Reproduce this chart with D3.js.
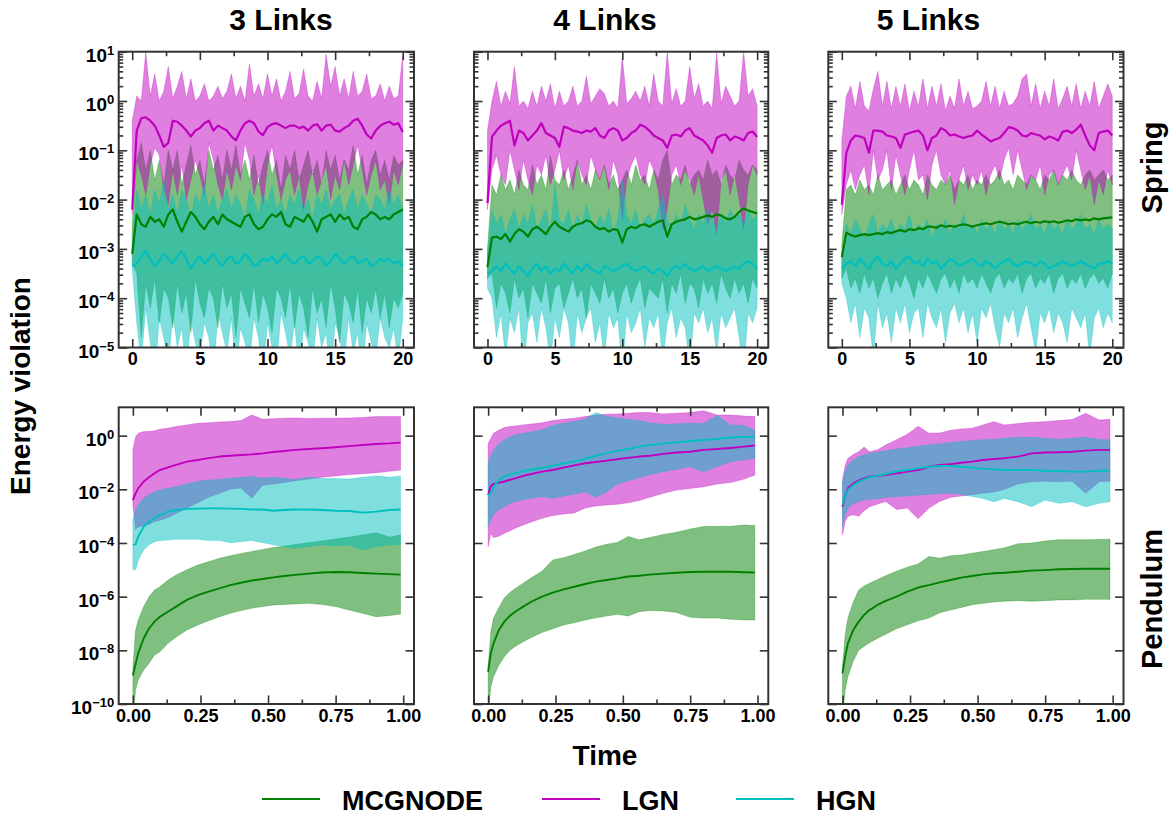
<!DOCTYPE html>
<html lang="en">
<head>
<meta charset="utf-8">
<title>Energy violation</title>
<script src="https://d3js.org/d3.v7.min.js"></script>
<style>
  body { margin: 0; background: #fff; }
  text { font-family: "Liberation Sans", Arial, sans-serif; font-weight: bold; }
</style>
</head>
<body>
<div id="canvas"></div>
<script>
// ---- data: values are log10 of the energy violation ----
const models = ["MCGNODE", "LGN", "HGN"];
const modelColors = ["#008000", "#bf00bf", "#00bfbf"];
const linkLabels = ["3 Links", "4 Links", "5 Links"];
const rowLabels = ["Spring", "Pendulum"];

// spring: 61 samples over t = 0..20
const springT = d3.range(61).map(i => i / 3);

const s3McgMid = [-3.1,-2.3,-2.5,-2.55,-2.35,-2.45,-2.4,-2.55,-2.3,-2.2, -2.45,-2.65,-2.45,-2.25,-2.35,-2.5,-2.6,-2.45,-2.35,-2.5, -2.3,-2.4,-2.45,-2.5,-2.55,-2.35,-2.3,-2.5,-2.6,-2.55, -2.4,-2.3,-2.35,-2.25,-2.5,-2.55,-2.35,-2.4,-2.45,-2.3, -2.45,-2.65,-2.4,-2.35,-2.3,-2.45,-2.3,-2.4,-2.35,-2.55, -2.6,-2.4,-2.35,-2.25,-2.3,-2.4,-2.35,-2.4,-2.3,-2.25,-2.2];
const s3McgHi = [-2.5,-1.2,-0.85,-1.4,-1.0,-1.6,-1.2,-1.7,-1.0,-1.4, -1.0,-1.7,-1.3,-0.9,-1.5,-1.2,-1.7,-1.0,-1.4,-1.1, -1.6,-1.0,-1.4,-0.9,-1.5,-1.2,-1.6,-1.1,-1.7,-1.3, -1.0,-1.5,-1.2,-1.8,-1.1,-1.4,-1.0,-1.6,-1.3,-1.0, -1.5,-1.2,-1.7,-1.0,-1.4,-1.1,-1.6,-1.2,-1.4,-0.9, -1.5,-1.1,-1.7,-1.2,-1.0,-1.5,-1.2,-1.6,-1.1,-1.3,-1.2];
const s3McgLo = [-3.3,-3.5,-4.8,-3.7,-4.2,-3.6,-4.5,-3.8,-4.0,-4.6, -3.7,-4.3,-3.9,-4.7,-3.6,-4.1,-4.4,-3.8,-4.0,-4.6, -3.7,-4.2,-3.9,-4.8,-3.8,-4.1,-4.4,-3.7,-4.5,-3.9, -4.2,-4.7,-3.8,-4.0,-4.4,-3.7,-4.6,-3.9,-4.2,-4.8, -3.8,-4.3,-4.0,-4.6,-3.7,-4.2,-4.9,-3.9,-4.1,-4.5, -3.8,-4.7,-4.0,-4.3,-3.8,-4.4,-3.9,-4.6,-4.0,-4.2,-3.9];
const s3LgnMid = [-2.2,-0.6,-0.35,-0.33,-0.4,-0.5,-0.7,-0.93,-0.85,-0.4, -0.42,-0.5,-0.6,-0.72,-0.6,-0.55,-0.45,-0.4,-0.6,-0.5, -0.55,-0.6,-0.72,-0.8,-0.6,-0.45,-0.4,-0.45,-0.62,-0.69, -0.53,-0.47,-0.45,-0.5,-0.55,-0.5,-0.5,-0.55,-0.52,-0.6, -0.5,-0.47,-0.6,-0.5,-0.48,-0.6,-0.62,-0.55,-0.5,-0.4, -0.36,-0.5,-0.68,-0.76,-0.6,-0.5,-0.45,-0.42,-0.48,-0.45,-0.63];
const s3LgnHi = [-0.4,0.1,0.0,1.0,0.1,0.55,0.0,0.2,0.7,0.05, 0.3,0.6,0.05,0.45,0.0,0.1,0.35,0.0,0.1,0.3, 0.05,0.2,0.55,0.05,0.3,0.0,0.75,0.1,0.35,0.05, 0.55,0.1,0.45,0.0,0.2,0.6,0.05,0.15,0.65,0.1, 0.0,0.4,0.05,0.95,0.3,0.7,0.1,0.45,0.05,0.6, 0.1,0.2,0.55,0.05,0.1,0.35,0.0,0.3,0.05,0.1,0.93];
const s3LgnLo = [-2.3,-1.2,-1.5,-1.9,-1.3,-0.95,-1.1,-1.8,-2.1,-1.4, -1.9,-1.3,-2.0,-1.6,-1.2,-1.5,-1.9,-0.85,-1.2,-1.7, -2.0,-1.4,-1.8,-1.3,-1.6,-0.85,-1.2,-1.9,-1.5,-2.1, -1.3,-0.9,-1.5,-2.0,-1.6,-1.4,-1.9,-1.5,-2.2,-1.7, -1.4,-1.9,-1.6,-1.3,-2.0,-1.5,-1.8,-1.2,-1.7,-1.3, -0.9,-1.4,-1.9,-1.5,-1.2,-1.8,-1.6,-2.1,-1.4,-1.7,-1.3];
const s3HgnMid = [-3.35,-3.3,-3.15,-3.05,-3.2,-3.35,-3.25,-3.1,-3.2,-3.3, -3.15,-3.05,-3.2,-3.4,-3.25,-3.15,-3.3,-3.2,-3.1,-3.25, -3.35,-3.2,-3.15,-3.3,-3.25,-3.1,-3.2,-3.35,-3.3,-3.2, -3.25,-3.15,-3.3,-3.2,-3.1,-3.25,-3.3,-3.2,-3.15,-3.3, -3.25,-3.15,-3.2,-3.35,-3.25,-3.1,-3.2,-3.3,-3.2,-3.15, -3.3,-3.25,-3.2,-3.35,-3.3,-3.2,-3.25,-3.2,-3.3,-3.25,-3.35];
const s3HgnHi = [-2.9,-1.8,-2.2,-1.9,-2.3,-1.8,-2.1,-1.6,-2.2,-1.9, -2.3,-1.8,-2.0,-2.4,-1.9,-2.1,-1.7,-2.2,-1.9,-2.3, -2.0,-1.8,-2.2,-1.9,-2.1,-2.4,-1.8,-2.0,-2.3,-1.9, -2.1,-1.7,-2.2,-2.0,-2.3,-1.9,-2.1,-1.8,-2.2,-2.0, -2.4,-1.9,-2.1,-1.8,-2.2,-2.0,-1.9,-2.3,-2.0,-1.8, -2.2,-1.9,-2.1,-2.3,-1.9,-2.0,-2.2,-1.8,-2.1,-1.9,-2.2];
const s3HgnLo = [-3.4,-4.5,-5.3,-4.2,-4.9,-5.6,-4.4,-4.8,-5.4,-4.3, -5.0,-4.6,-5.5,-4.4,-4.9,-5.2,-4.5,-4.8,-5.6,-4.3, -4.7,-5.1,-4.4,-5.5,-4.6,-4.9,-5.3,-4.4,-4.8,-5.6, -4.5,-5.0,-5.4,-4.3,-4.7,-5.2,-4.5,-5.5,-4.6,-4.9, -5.3,-4.4,-5.0,-4.7,-5.6,-4.5,-4.8,-5.3,-4.4,-5.1, -4.7,-5.5,-4.5,-4.9,-5.2,-4.4,-4.8,-5.0,-4.6,-5.3,-4.4];

const s4McgMid = [-3.37,-2.77,-2.75,-2.8,-2.7,-2.85,-2.7,-2.6,-2.65,-2.75, -2.6,-2.55,-2.62,-2.7,-2.55,-2.45,-2.55,-2.6,-2.65,-2.55, -2.5,-2.48,-2.42,-2.45,-2.55,-2.6,-2.58,-2.65,-2.6,-2.62, -2.87,-2.6,-2.55,-2.58,-2.52,-2.5,-2.55,-2.5,-2.45,-2.42, -2.75,-2.5,-2.45,-2.42,-2.4,-2.35,-2.4,-2.38,-2.35,-2.32, -2.35,-2.3,-2.32,-2.38,-2.4,-2.35,-2.25,-2.18,-2.22,-2.25,-2.28];
const s4McgHi = [-3.0,-1.7,-1.9,-1.5,-1.8,-1.6,-1.9,-1.4,-1.7,-1.8, -1.3,-1.7,-1.5,-1.8,-1.1,-1.6,-1.7,-1.4,-1.8,-1.5, -1.2,-1.7,-1.5,-1.8,-1.4,-1.6,-1.3,-1.7,-1.5,-1.8, -1.6,-1.4,-1.7,-1.3,-1.6,-1.5,-1.8,-1.4,-1.6,-1.2, -1.0,-1.7,-1.5,-1.6,-1.3,-1.7,-1.5,-1.4,-1.6,-1.2, -1.5,-1.4,-1.7,-1.3,-1.5,-1.6,-1.2,-1.4,-1.5,-1.3,-1.4];
const s4McgLo = [-3.6,-3.5,-4.2,-3.7,-3.9,-4.3,-3.6,-4.0,-3.8,-4.4, -3.7,-3.9,-4.1,-3.6,-4.3,-3.8,-3.7,-4.2,-3.9,-3.6, -4.0,-3.8,-4.4,-3.7,-3.9,-4.1,-3.6,-4.0,-3.8,-4.3, -3.9,-3.7,-4.1,-3.8,-3.6,-4.2,-3.8,-3.9,-4.0,-3.6, -4.3,-3.7,-3.9,-3.5,-4.1,-3.7,-3.8,-4.2,-3.6,-3.9, -3.7,-4.1,-3.5,-3.8,-4.0,-3.6,-3.9,-3.7,-4.1,-3.6,-3.8];
const s4LgnMid = [-2.07,-0.73,-0.6,-0.5,-0.45,-0.4,-0.9,-0.6,-0.65,-0.8, -0.7,-0.6,-0.45,-0.65,-0.7,-0.75,-0.93,-0.52,-0.55,-0.6, -0.62,-0.65,-0.6,-0.62,-0.55,-0.7,-0.75,-0.6,-0.55,-0.6, -0.8,-0.75,-0.65,-0.6,-0.48,-0.52,-0.6,-0.7,-0.75,-0.8, -0.95,-0.7,-0.68,-0.72,-0.6,-0.55,-0.7,-0.75,-0.8,-0.9, -1.05,-0.75,-0.7,-0.68,-0.8,-0.72,-0.75,-0.8,-0.65,-0.62,-0.73];
const s4LgnHi = [-0.6,0.0,0.4,-0.1,0.2,-0.05,0.7,-0.1,0.0,-0.15, 0.2,-0.1,0.3,0.0,0.35,-0.15,0.2,-0.1,0.0,0.3, -0.1,0.0,0.5,-0.05,0.1,0.25,0.15,-0.1,0.0,-0.15, 0.9,-0.05,0.05,0.2,0.0,0.3,-0.1,0.55,0.0,-0.1, 1.0,-0.05,0.25,-0.1,0.0,0.7,0.05,0.35,-0.1,0.0, -0.15,0.97,-0.05,0.3,0.1,-0.1,0.0,1.0,0.1,0.25,-0.1];
const s4LgnLo = [-2.2,-1.4,-1.1,-1.5,-1.7,-1.0,-1.4,-1.8,-1.2,-1.6, -1.9,-1.3,-1.5,-1.1,-1.7,-1.4,-1.0,-1.6,-1.3,-1.8, -1.2,-1.5,-1.7,-1.1,-1.4,-1.6,-1.3,-1.8,-1.2,-1.5, -2.4,-1.6,-1.3,-1.1,-1.5,-1.7,-1.2,-1.4,-1.8,-2.6, -2.2,-1.5,-1.3,-1.7,-1.4,-1.6,-1.9,-1.5,-2.0,-2.5, -2.2,-2.7,-1.6,-1.4,-1.9,-1.5,-2.0,-2.6,-1.7,-1.3,-1.5];
const s4HgnMid = [-3.5,-3.45,-3.35,-3.45,-3.3,-3.4,-3.5,-3.35,-3.45,-3.55, -3.4,-3.3,-3.45,-3.35,-3.5,-3.4,-3.45,-3.3,-3.4,-3.5, -3.35,-3.45,-3.3,-3.4,-3.45,-3.5,-3.35,-3.4,-3.45,-3.4, -3.35,-3.3,-3.4,-3.45,-3.4,-3.35,-3.45,-3.5,-3.4,-3.45, -3.55,-3.4,-3.35,-3.4,-3.3,-3.4,-3.45,-3.4,-3.35,-3.45, -3.4,-3.35,-3.4,-3.45,-3.4,-3.35,-3.4,-3.3,-3.25,-3.3,-3.4];
const s4HgnHi = [-3.1,-2.2,-2.5,-2.3,-2.7,-2.4,-2.2,-2.6,-2.3,-2.5, -2.1,-2.6,-2.4,-2.2,-2.7,-1.7,-2.4,-2.5,-2.2,-2.6, -2.3,-2.5,-2.1,-2.4,-2.6,-2.3,-2.5,-2.2,-2.7,-2.4, -1.6,-2.3,-2.5,-2.2,-2.6,-2.4,-2.3,-2.5,-2.2,-1.9, -2.4,-2.6,-2.3,-2.5,-2.1,-2.4,-2.6,-2.3,-2.5,-2.2, -2.4,-2.6,-2.3,-2.5,-2.2,-2.4,-2.3,-2.5,-2.2,-2.4,-2.3];
const s4HgnLo = [-3.8,-4.0,-4.8,-4.3,-5.2,-4.4,-4.7,-4.2,-5.5,-4.5, -4.3,-4.9,-4.2,-4.6,-5.3,-4.4,-4.8,-4.2,-4.5,-5.4, -4.3,-4.7,-4.4,-4.2,-4.9,-4.5,-5.2,-4.3,-4.6,-4.4, -5.5,-4.3,-4.7,-4.5,-4.2,-5.0,-4.4,-4.6,-4.3,-5.3, -4.5,-4.2,-4.8,-4.4,-4.6,-5.4,-4.3,-4.5,-4.2,-4.7, -4.4,-5.1,-4.3,-4.6,-4.4,-4.2,-4.8,-5.5,-4.3,-4.5,-4.2];

const s5McgMid = [-3.17,-2.67,-2.72,-2.75,-2.72,-2.7,-2.72,-2.7,-2.68,-2.7, -2.66,-2.68,-2.64,-2.62,-2.65,-2.6,-2.62,-2.58,-2.6,-2.55, -2.55,-2.57,-2.52,-2.55,-2.53,-2.55,-2.52,-2.5,-2.52,-2.55, -2.52,-2.5,-2.48,-2.5,-2.47,-2.45,-2.47,-2.5,-2.48,-2.5, -2.47,-2.45,-2.48,-2.45,-2.47,-2.44,-2.46,-2.44,-2.47,-2.45, -2.42,-2.44,-2.4,-2.42,-2.4,-2.42,-2.38,-2.4,-2.38,-2.37,-2.36];
const s5McgHi = [-2.9,-1.8,-1.7,-1.9,-1.6,-1.8,-1.7,-1.9,-1.5,-1.8, -1.7,-1.6,-1.9,-1.7,-1.5,-1.8,-1.6,-1.7,-1.9,-1.5, -1.7,-1.8,-1.6,-1.7,-1.5,-1.8,-1.6,-1.7,-1.5,-1.8, -1.6,-1.7,-1.5,-1.7,-1.6,-1.4,-1.7,-1.6,-1.8,-1.5, -1.6,-1.7,-1.5,-1.6,-1.8,-1.5,-1.6,-1.4,-1.7,-1.5, -1.6,-1.4,-1.6,-1.7,-1.5,-1.4,-1.6,-1.5,-1.4,-1.6,-1.5];
const s5McgLo = [-3.6,-3.4,-3.8,-3.6,-3.9,-3.5,-3.8,-3.6,-4.0,-3.7, -3.5,-3.9,-3.6,-3.8,-3.5,-3.7,-4.0,-3.6,-3.8,-3.5, -3.7,-3.9,-3.6,-3.5,-3.8,-3.6,-3.9,-3.5,-3.7,-3.6, -3.8,-3.5,-3.7,-3.9,-3.6,-3.5,-3.8,-3.6,-3.7,-3.5, -3.9,-3.6,-3.5,-3.8,-3.6,-3.7,-3.5,-3.9,-3.6,-3.5, -3.8,-3.6,-3.7,-3.5,-3.8,-3.6,-3.5,-3.7,-3.6,-3.8,-3.5];
const s5LgnMid = [-2.1,-1.05,-0.8,-0.7,-0.72,-0.75,-1.05,-0.6,-0.6,-0.62, -0.7,-0.72,-0.75,-0.95,-0.68,-0.65,-0.62,-0.6,-0.7,-1.0, -0.75,-0.7,-0.55,-0.6,-0.7,-0.68,-0.72,-0.75,-0.72,-0.7, -0.6,-0.68,-0.75,-0.82,-0.78,-0.75,-0.65,-0.53,-0.55,-0.6, -0.7,-0.72,-0.65,-0.68,-0.7,-0.78,-0.72,-0.75,-0.8,-0.62, -0.6,-0.65,-0.58,-0.48,-0.7,-0.9,-1.0,-0.65,-0.62,-0.6,-0.7];
const s5LgnHi = [-0.8,0.1,0.3,-0.15,0.4,-0.1,-0.2,0.25,0.6,-0.1, 0.4,-0.15,0.3,-0.1,0.35,-0.2,0.2,-0.1,0.45,-0.15, 0.3,-0.1,0.35,-0.2,0.1,-0.15,0.45,-0.1,0.2,-0.15, -0.1,0.0,0.4,-0.1,0.3,-0.15,0.2,-0.1,-0.05,0.1, 0.45,0.55,-0.1,0.35,-0.15,0.2,-0.1,0.45,-0.15,0.05, 0.3,-0.1,0.35,-0.15,0.2,-0.1,0.4,-0.15,0.1,0.35,0.1];
const s5LgnLo = [-2.3,-1.7,-1.4,-1.8,-1.5,-1.3,-1.9,-1.0,-1.6,-1.4, -1.0,-1.8,-1.1,-1.5,-1.9,-1.4,-1.0,-1.6,-1.5,-2.0, -1.3,-1.0,-1.5,-1.7,-1.4,-2.1,-1.6,-1.3,-1.8,-1.5, -1.7,-1.4,-1.9,-1.5,-1.3,-1.6,-1.2,-0.95,-1.5,-1.0, -1.4,-1.8,-1.5,-1.6,-1.3,-1.9,-1.5,-1.4,-1.7,-1.5, -1.3,-1.6,-1.0,-1.4,-1.8,-1.5,-2.1,-1.6,-1.9,-1.4,-1.7];
const s5HgnMid = [-3.4,-3.3,-3.25,-3.35,-3.2,-3.3,-3.4,-3.25,-3.15,-3.3, -3.35,-3.25,-3.4,-3.3,-3.2,-3.15,-3.3,-3.25,-3.35,-3.2, -3.3,-3.25,-3.4,-3.3,-3.2,-3.25,-3.35,-3.3,-3.25,-3.2, -3.3,-3.35,-3.25,-3.3,-3.4,-3.3,-3.25,-3.2,-3.3,-3.35, -3.3,-3.25,-3.3,-3.35,-3.25,-3.3,-3.4,-3.35,-3.3,-3.25, -3.3,-3.35,-3.3,-3.25,-3.3,-3.35,-3.4,-3.3,-3.3,-3.25,-3.3];
const s5HgnHi = [-3.2,-2.5,-2.7,-2.4,-2.6,-2.8,-2.5,-2.3,-2.7,-2.5, -2.6,-2.4,-2.7,-2.5,-2.6,-2.3,-2.7,-2.5,-2.6,-2.4, -2.8,-2.5,-2.6,-2.4,-2.7,-2.5,-2.6,-2.3,-2.6,-2.5, -2.7,-2.4,-2.6,-2.5,-2.7,-2.4,-2.6,-2.5,-2.7,-2.4, -2.6,-2.5,-2.3,-2.6,-2.5,-2.7,-2.4,-2.6,-2.5,-2.7, -2.4,-2.6,-2.5,-2.3,-2.6,-2.5,-2.7,-2.4,-2.6,-2.5,-2.6];
const s5HgnLo = [-3.7,-4.0,-4.5,-4.1,-4.8,-4.2,-4.4,-5.2,-4.1,-4.6, -4.3,-4.9,-4.2,-4.5,-4.1,-4.7,-4.3,-4.2,-4.8,-4.1, -4.4,-4.6,-4.2,-4.9,-4.3,-4.1,-4.5,-4.2,-4.7,-4.3, -4.9,-4.2,-4.4,-4.1,-4.6,-5.0,-4.3,-4.5,-4.2,-4.8, -4.4,-4.1,-4.6,-5.1,-4.3,-4.5,-4.2,-4.7,-4.3,-4.5, -4.9,-4.2,-4.4,-4.6,-4.3,-5.2,-4.4,-4.2,-4.6,-4.3,-4.5];

// pendulum: 28 samples over t = 0..0.99
const pendT = [0,0.01,0.02,0.04,0.06,0.08,0.1,0.13,0.16,0.2,0.24,0.28,0.32,0.36,0.4,0.44,0.48,0.52,0.56,0.6,0.65,0.7,0.75,0.8,0.85,0.9,0.95,0.99];

const p3McgMid = [-8.94,-8.5,-8.1,-7.55,-7.18,-6.93,-6.75,-6.56,-6.37,-6.12,-5.94,-5.81,-5.69,-5.57,-5.48,-5.4,-5.34,-5.28,-5.23,-5.19,-5.14,-5.1,-5.08,-5.09,-5.12,-5.14,-5.16,-5.18];
const p3McgHi = [-8.6,-7.24,-6.87,-6.37,-6.0,-5.75,-5.63,-5.38,-5.19,-5.0,-4.82,-4.7,-4.57,-4.48,-4.39,-4.32,-4.24,-4.17,-4.12,-4.06,-3.99,-3.93,-3.85,-3.78,-3.7,-3.62,-3.78,-3.7];
const p3McgLo = [-10.5,-9.48,-9.1,-8.73,-8.48,-8.17,-8.05,-7.74,-7.5,-7.24,-7.06,-6.9,-6.75,-6.62,-6.52,-6.43,-6.37,-6.31,-6.29,-6.27,-6.25,-6.29,-6.37,-6.5,-6.62,-6.75,-6.7,-6.65];
const p3LgnMid = [-2.4,-2.15,-1.96,-1.71,-1.55,-1.4,-1.28,-1.18,-1.09,-0.97,-0.91,-0.84,-0.78,-0.75,-0.72,-0.7,-0.66,-0.61,-0.57,-0.53,-0.5,-0.47,-0.43,-0.39,-0.35,-0.31,-0.29,-0.26];
const p3LgnHi = [-0.53,-0.04,0.09,0.15,0.15,0.18,0.24,0.28,0.34,0.4,0.46,0.48,0.51,0.53,0.56,0.77,0.61,0.63,0.65,0.66,0.64,0.65,0.65,0.66,0.68,0.71,0.71,0.71];
const p3LgnLo = [-2.6,-3.5,-3.4,-3.35,-3.3,-3.2,-3.15,-3.05,-2.9,-2.7,-2.5,-2.3,-2.15,-2.0,-1.95,-2.33,-1.85,-1.8,-1.75,-1.68,-1.62,-1.55,-1.5,-1.45,-1.42,-1.38,-1.33,-1.28];
const p3HgnMid = [-4.07,-4.05,-3.76,-3.39,-3.2,-3.08,-2.96,-2.83,-2.77,-2.73,-2.72,-2.71,-2.71,-2.72,-2.73,-2.75,-2.75,-2.8,-2.77,-2.75,-2.75,-2.77,-2.8,-2.81,-2.87,-2.83,-2.77,-2.75];
const p3HgnHi = [-3.14,-2.77,-2.58,-2.33,-2.2,-2.09,-2.02,-1.96,-1.9,-1.8,-1.71,-1.65,-1.63,-1.59,-1.55,-1.52,-1.59,-1.55,-1.59,-1.63,-1.55,-1.6,-1.6,-1.62,-1.55,-1.5,-1.55,-1.5];
const p3HgnLo = [-5.0,-5.0,-4.63,-4.26,-4.07,-3.95,-3.91,-3.89,-3.86,-3.86,-3.86,-3.91,-3.91,-3.99,-3.95,-3.91,-3.99,-4.07,-4.14,-4.2,-4.14,-4.07,-4.11,-4.07,-4.26,-4.14,-4.07,-4.07];

const p4McgMid = [-8.8,-8.1,-7.74,-7.24,-6.93,-6.72,-6.56,-6.37,-6.19,-6.0,-5.85,-5.73,-5.63,-5.53,-5.44,-5.38,-5.32,-5.25,-5.22,-5.18,-5.14,-5.11,-5.08,-5.07,-5.07,-5.07,-5.09,-5.1];
const p4McgHi = [-8.6,-7.3,-6.8,-6.4,-6.05,-5.85,-5.7,-5.5,-5.3,-5.05,-4.63,-4.55,-4.43,-4.3,-4.15,-4.05,-3.98,-3.76,-3.88,-3.8,-3.68,-3.6,-3.48,-3.39,-3.38,-3.38,-3.33,-3.35];
const p4McgLo = [-10.5,-9.35,-8.98,-8.55,-8.24,-8.01,-7.86,-7.68,-7.52,-7.34,-7.2,-7.06,-6.97,-6.87,-6.79,-6.72,-6.66,-6.72,-6.56,-6.52,-6.53,-6.59,-6.77,-6.8,-6.8,-6.84,-6.87,-6.87];
const p4LgnMid = [-2.21,-1.88,-1.8,-1.75,-1.71,-1.65,-1.59,-1.5,-1.43,-1.34,-1.28,-1.19,-1.11,-1.03,-0.98,-0.93,-0.88,-0.83,-0.78,-0.75,-0.68,-0.63,-0.6,-0.53,-0.5,-0.46,-0.41,-0.37];
const p4LgnHi = [-0.29,-0.1,0.09,0.21,0.3,0.34,0.36,0.4,0.43,0.48,0.56,0.61,0.65,0.71,0.77,0.8,0.81,0.83,0.86,0.86,0.81,0.83,0.86,0.93,0.77,0.77,0.73,0.71];
const p4LgnLo = [-4.14,-3.64,-3.8,-3.75,-3.64,-3.55,-3.45,-3.33,-3.22,-3.08,-2.98,-2.92,-2.88,-2.7,-2.62,-2.58,-2.56,-2.5,-2.42,-2.3,-2.15,-2.03,-1.97,-1.9,-1.8,-1.75,-1.62,-1.47];
const p4HgnMid = [-2.21,-2.15,-1.9,-1.65,-1.53,-1.45,-1.4,-1.32,-1.26,-1.2,-1.12,-1.03,-0.96,-0.86,-0.75,-0.65,-0.57,-0.5,-0.41,-0.35,-0.29,-0.25,-0.2,-0.16,-0.12,-0.07,-0.05,-0.04];
const p4HgnHi = [-0.97,-0.75,-0.55,-0.3,-0.16,-0.05,0.02,0.09,0.14,0.22,0.38,0.46,0.53,0.62,0.86,0.72,0.66,0.6,0.56,0.48,0.42,0.44,0.46,0.45,0.75,0.4,0.38,0.19];
const p4HgnLo = [-3.39,-3.14,-2.95,-2.75,-2.65,-2.52,-2.45,-2.4,-2.33,-2.27,-2.34,-2.25,-2.18,-2.1,-2.3,-2.1,-1.8,-1.68,-1.57,-1.45,-1.35,-1.25,-1.16,-1.35,-1.15,-0.97,-0.9,-0.84];

const p5McgMid = [-8.86,-8.24,-7.74,-7.24,-6.93,-6.68,-6.5,-6.31,-6.16,-6.0,-5.81,-5.66,-5.57,-5.47,-5.38,-5.29,-5.23,-5.17,-5.13,-5.11,-5.07,-5.03,-5.01,-4.98,-4.97,-4.96,-4.96,-4.96];
const p5McgHi = [-8.6,-7.4,-6.8,-6.2,-5.75,-5.6,-5.5,-5.36,-5.22,-5.05,-4.9,-4.78,-4.5,-4.57,-4.48,-4.45,-4.38,-4.32,-4.25,-4.18,-4.03,-4.0,-3.93,-3.88,-3.88,-3.88,-3.87,-3.86];
const p5McgLo = [-10.5,-9.48,-8.98,-8.4,-8.0,-7.85,-7.72,-7.55,-7.4,-7.2,-7.05,-6.9,-6.8,-6.6,-6.5,-6.4,-6.3,-6.25,-6.2,-6.17,-6.15,-6.17,-6.15,-6.12,-6.12,-6.1,-6.1,-6.1];
const p5LgnMid = [-2.65,-2.27,-1.96,-1.78,-1.68,-1.59,-1.53,-1.5,-1.47,-1.4,-1.34,-1.28,-1.16,-1.09,-1.06,-1.01,-0.97,-0.91,-0.87,-0.84,-0.78,-0.66,-0.63,-0.62,-0.6,-0.56,-0.53,-0.53];
const p5LgnHi = [-1.65,-1.1,-0.85,-0.7,-0.6,-0.42,-0.6,-0.53,-0.35,-0.15,0.05,0.35,0.09,0.1,0.2,0.25,0.28,0.4,0.52,0.4,0.45,0.5,0.52,0.56,0.6,0.83,0.58,0.61];
const p5LgnLo = [-3.7,-3.2,-3.0,-2.95,-3.0,-2.8,-2.65,-2.55,-2.45,-2.75,-2.7,-3.1,-2.7,-2.45,-2.3,-2.25,-2.2,-2.15,-2.1,-2.0,-1.8,-1.72,-1.7,-1.72,-1.7,-2.15,-1.72,-1.7];
const p5HgnMid = [-2.58,-2.27,-2.02,-1.84,-1.71,-1.63,-1.55,-1.5,-1.43,-1.34,-1.28,-1.22,-1.16,-1.13,-1.13,-1.16,-1.19,-1.24,-1.25,-1.28,-1.28,-1.28,-1.31,-1.32,-1.34,-1.34,-1.31,-1.3];
const p5HgnHi = [-1.71,-1.34,-1.09,-0.91,-0.78,-0.72,-0.66,-0.62,-0.56,-0.5,-0.45,-0.39,-0.35,-0.31,-0.26,-0.22,-0.19,-0.14,-0.14,-0.1,-0.06,-0.06,-0.1,-0.14,-0.1,-0.06,-0.14,-0.16];
const p5HgnLo = [-3.39,-2.96,-2.71,-2.52,-2.46,-2.4,-2.37,-2.35,-2.3,-2.27,-2.25,-2.21,-2.19,-2.15,-2.15,-2.18,-2.27,-2.34,-2.46,-2.34,-2.46,-2.65,-2.4,-2.52,-2.46,-2.65,-2.52,-2.46];

// tick values
const springXMajor = [0, 5, 10, 15, 20];
const springXMinor = [2.5, 7.5, 12.5, 17.5];
const pendXMajor = [0, 0.25, 0.5, 0.75, 1];
const pendXMinor = [0.125, 0.375, 0.625, 0.875];
const springYExp = [-5, -4, -3, -2, -1, 0, 1];
const pendYExp = [-10, -8, -6, -4, -2, 0];

// ---- layout ----
const cols = [[118.7, 414], [474, 768.3], [828.3, 1123.5]];
const rows = [[51.7, 347.5], [407.3, 704]];
const axisColor = "#333";
const tickFont = 18;

const panels = [];
[[s3McgMid, s3McgLo, s3McgHi, s3LgnMid, s3LgnLo, s3LgnHi, s3HgnMid, s3HgnLo, s3HgnHi],
 [s4McgMid, s4McgLo, s4McgHi, s4LgnMid, s4LgnLo, s4LgnHi, s4HgnMid, s4HgnLo, s4HgnHi],
 [s5McgMid, s5McgLo, s5McgHi, s5LgnMid, s5LgnLo, s5LgnHi, s5HgnMid, s5HgnLo, s5HgnHi]
].forEach((a, c) => panels.push({row: 0, col: c, t: springT, arrs: a}));
[[p3McgMid, p3McgLo, p3McgHi, p3LgnMid, p3LgnLo, p3LgnHi, p3HgnMid, p3HgnLo, p3HgnHi],
 [p4McgMid, p4McgLo, p4McgHi, p4LgnMid, p4LgnLo, p4LgnHi, p4HgnMid, p4HgnLo, p4HgnHi],
 [p5McgMid, p5McgLo, p5McgHi, p5LgnMid, p5LgnLo, p5LgnHi, p5HgnMid, p5HgnLo, p5HgnHi]
].forEach((a, c) => panels.push({row: 1, col: c, t: pendT, arrs: a}));

const svg = d3.select("#canvas").append("svg")
    .attr("width", 1172)
    .attr("height", 833)
    .attr("font-family", "Liberation Sans, Arial, sans-serif");

const pow10 = v => Math.pow(10, v);

panels.forEach(drawPanel);

function drawPanel(p) {
  const [x0, x1] = cols[p.col], [y0, y1] = rows[p.row];
  const spring = p.row === 0;
  const x = d3.scaleLinear()
      .domain(spring ? [-1, 20.83] : [-0.0525, 1.04])
      .range([x0, x1]);
  const y = d3.scaleLog()
      .domain(spring ? [1e-5, 10] : [1e-10, pow10(1.056)])
      .range([y1, y0]);

  const clipId = `clip-${p.row}-${p.col}`;
  svg.append("clipPath").attr("id", clipId)
    .append("rect")
      .attr("x", x0).attr("y", y0)
      .attr("width", x1 - x0).attr("height", y1 - y0);

  const g = svg.append("g").attr("clip-path", `url(#${clipId})`);

  // bands first (MCGNODE, LGN, HGN), then the mean lines
  models.forEach((m, k) => {
    const lo = p.arrs[k * 3 + 1], hi = p.arrs[k * 3 + 2];
    const area = d3.area()
        .x((d, i) => x(p.t[i]))
        .y0((d, i) => y(pow10(lo[i])))
        .y1((d, i) => y(pow10(hi[i])));
    g.append("path")
        .datum(lo)
        .attr("d", area)
        .attr("fill", modelColors[k])
        .attr("fill-opacity", 0.5)
        .attr("stroke", modelColors[k])
        .attr("stroke-opacity", 0.35)
        .attr("stroke-width", 0.8);
  });
  models.forEach((m, k) => {
    const mid = p.arrs[k * 3];
    const line = d3.line()
        .x((d, i) => x(p.t[i]))
        .y(d => y(pow10(d)));
    g.append("path")
        .datum(mid)
        .attr("d", line)
        .attr("fill", "none")
        .attr("stroke", modelColors[k])
        .attr("stroke-width", spring ? 2.2 : 1.9)
        .attr("stroke-linejoin", "round");
  });

  // ticks, all pointing inward
  const xMajor = spring ? springXMajor : pendXMajor;
  const xMinor = spring ? springXMinor : pendXMinor;
  const yMajor = (spring ? springYExp : pendYExp).map(pow10);
  const yMinor = [];
  if (spring) {
    springYExp.slice(0, -1).forEach(e => d3.range(2, 10).forEach(m => yMinor.push(m * pow10(e))));
  }
  const xFmt = spring ? d3.format("d") : d3.format(".2f");

  const tickAxis = (axis, tx, ty) => {
    const a = svg.append("g")
        .attr("transform", `translate(${tx},${ty})`)
        .attr("color", axisColor)
        .call(axis);
    a.select(".domain").remove();
    a.selectAll("line").attr("stroke-width", 1.6);
    return a;
  };

  const bottom = tickAxis(d3.axisBottom(x).tickValues(xMajor).tickSize(-8.5).tickPadding(5).tickFormat(xFmt), 0, y1);
  bottom.attr("font-size", tickFont);
  bottom.selectAll("text").attr("fill", "#000");
  tickAxis(d3.axisBottom(x).tickValues(xMinor).tickSize(-4.5).tickFormat(""), 0, y1);
  tickAxis(d3.axisTop(x).tickValues(xMajor).tickSize(-8.5).tickFormat(""), 0, y0);
  tickAxis(d3.axisTop(x).tickValues(xMinor).tickSize(-4.5).tickFormat(""), 0, y0);
  tickAxis(d3.axisLeft(y).tickValues(yMajor).tickSize(-8.5).tickFormat(""), x0, 0);
  tickAxis(d3.axisRight(y).tickValues(yMajor).tickSize(-8.5).tickFormat(""), x1, 0);
  if (yMinor.length) {
    tickAxis(d3.axisLeft(y).tickValues(yMinor).tickSize(-4.5).tickFormat(""), x0, 0);
    tickAxis(d3.axisRight(y).tickValues(yMinor).tickSize(-4.5).tickFormat(""), x1, 0);
  }

  // y labels with superscript exponent, left column only
  if (p.col === 0) {
    yMajor.forEach(v => {
      const e = Math.round(Math.log10(v));
      const t = svg.append("text")
          .attr("x", x0 - 4.5)
          .attr("y", y(v) + 10)
          .attr("text-anchor", "end")
          .attr("font-size", tickFont + 1)
          .attr("fill", "#000");
      t.append("tspan").text("10");
      t.append("tspan")
          .attr("dy", -7)
          .attr("font-size", 13)
          .text(e < 0 ? "\u2212" + (-e) : String(e));
    });
  }

  svg.append("rect")
      .attr("x", x0).attr("y", y0)
      .attr("width", x1 - x0).attr("height", y1 - y0)
      .attr("fill", "none")
      .attr("stroke", axisColor)
      .attr("stroke-width", 2);
}

// column titles
const titleX = [281, 605, 928.5];
linkLabels.forEach((s, i) => {
  svg.append("text")
      .attr("x", titleX[i]).attr("y", 29.5)
      .attr("text-anchor", "middle")
      .attr("font-size", 30)
      .text(s);
});

// row labels
const rowLabelY = [167.5, 599];
rowLabels.forEach((s, i) => {
  svg.append("text")
      .attr("transform", `translate(1162,${rowLabelY[i]}) rotate(-90)`)
      .attr("text-anchor", "middle")
      .attr("font-size", 29)
      .text(s);
});

svg.append("text")
    .attr("transform", "translate(29.5,386) rotate(-90)")
    .attr("text-anchor", "middle")
    .attr("font-size", 28)
    .text("Energy violation");

svg.append("text")
    .attr("x", 605).attr("y", 765)
    .attr("text-anchor", "middle")
    .attr("font-size", 28)
    .text("Time");

// legend
const legendX = [262, 542, 736];
models.forEach((m, k) => {
  svg.append("line")
      .attr("x1", legendX[k]).attr("x2", legendX[k] + 58)
      .attr("y1", 799).attr("y2", 799)
      .attr("stroke", modelColors[k])
      .attr("stroke-width", 2.2);
  svg.append("text")
      .attr("x", legendX[k] + 80).attr("y", 809.5)
      .attr("font-size", 27)
      .text(m);
});
</script>
</body>
</html>
